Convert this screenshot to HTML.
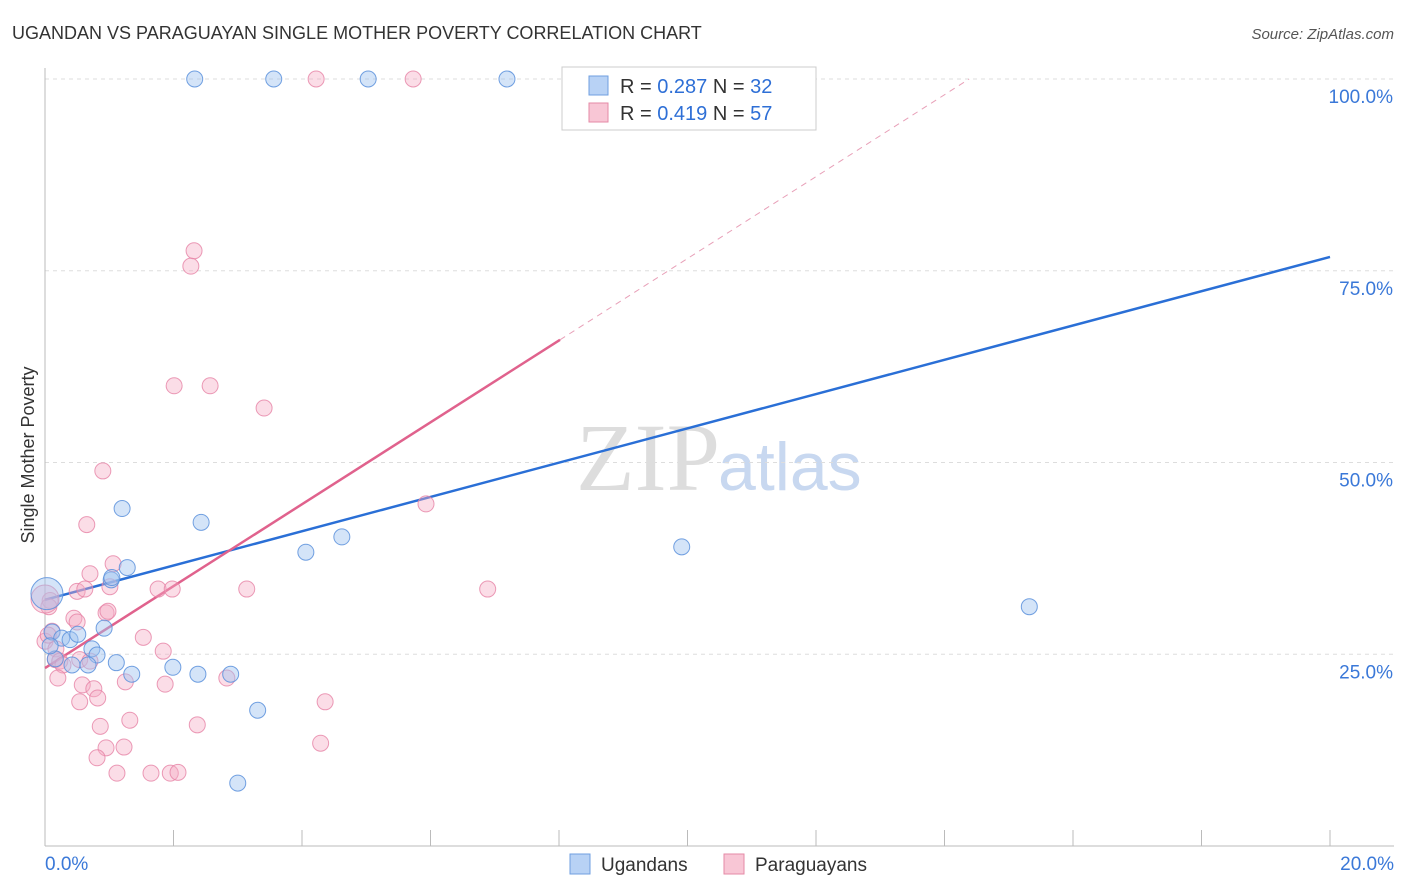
<!DOCTYPE html>
<html><head><meta charset="utf-8"><style>
body{margin:0;background:#fff;font-family:"Liberation Sans",sans-serif;}
svg{display:block}
</style></head><body>
<svg width="1406" height="892" id="chart">
<text x="12" y="39" font-size="18" fill="#333">UGANDAN VS PARAGUAYAN SINGLE MOTHER POVERTY CORRELATION CHART</text>
<text x="1394" y="39" font-size="15" fill="#555" font-style="italic" text-anchor="end">Source: ZipAtlas.com</text>
<text x="720" y="490" font-size="96" fill="#ddd" text-anchor="end" font-family="Liberation Serif,serif">ZIP</text>
<text x="718" y="490" font-size="68" fill="#c8d8f0">atlas</text>
<text x="34" y="455" font-size="18" fill="#333" text-anchor="middle" transform="rotate(-90 34 455)">Single Mother Poverty</text>
<g id="grid"></g><g id="axes"></g><g id="trend"></g><g id="pts"></g>
<g>
<rect x="562" y="67" width="254" height="63" fill="#fff" stroke="#ccc"/>
<rect x="589" y="76" width="19" height="19" fill="#b8d2f5" stroke="#6f9fe0"/>
<rect x="589" y="103" width="19" height="19" fill="#f8c6d5" stroke="#e58aa6"/>
<text x="620" y="93" font-size="20" fill="#333">R = <tspan fill="#2e6fd6">0.287</tspan>   N = <tspan fill="#2e6fd6">32</tspan></text>
<text x="620" y="120" font-size="20" fill="#333">R = <tspan fill="#2e6fd6">0.419</tspan>   N = <tspan fill="#2e6fd6">57</tspan></text>
</g>
<g>
<rect x="570" y="854" width="20" height="20" fill="#b8d2f5" stroke="#6f9fe0"/>
<text x="601" y="871" font-size="19" fill="#333">Ugandans</text>
<rect x="724" y="854" width="20" height="20" fill="#f8c6d5" stroke="#e58aa6"/>
<text x="755" y="871" font-size="19" fill="#333">Paraguayans</text>
</g>
</svg>
<script>
const yTicks=[25,50,75,100];
const xTickLabels=["0.0%","20.0%"];
const blueX=[2.33,3.56,5.03,7.19,1.2,2.43,4.06,4.62,9.91,15.32,1.28,1.03,1.04,0.03,0.11,0.26,0.39,0.51,0.92,0.73,0.81,0.16,0.42,0.67,1.11,1.35,1.99,2.38,2.89,3.31,3.0,0.08];
const blueY=[100,100,100,100,44,42.2,38.3,40.3,39,31.2,36.3,34.7,35,32.9,27.9,27.1,26.9,27.6,28.4,25.7,24.9,24.4,23.6,23.6,23.9,22.4,23.3,22.4,22.4,17.7,8.2,26.1];
const blueR=[8,8,8,8,8,8,8,8,8,8,8,8,8,16,8,8,8,8,8,8,8,8,8,8,8,8,8,8,8,8,8,8];
const pinkX=[4.22,5.73,2.32,2.27,2.01,2.57,3.41,0.9,5.93,0.65,1.06,0.7,0.5,0.62,1.76,1.98,3.14,6.89,1.01,0.08,0.06,0.45,0.5,0.95,0.98,0.11,0,0.17,0.16,0.23,0.28,0.54,0.7,1.84,1.53,0.2,0.58,1.25,1.87,0.76,2.83,0.54,0.82,4.36,1.32,0.86,2.37,0.95,1.23,4.29,0.81,1.12,1.65,1.95,2.07,0,0.05];
const pinkY=[100,100,77.6,75.6,60,60,57.1,48.9,44.6,41.9,36.8,35.5,33.2,33.5,33.5,33.5,33.5,33.5,33.8,32,31.2,29.7,29.2,30.4,30.6,28,26.7,25.7,24.3,24.1,23.6,24.3,24.1,25.4,27.2,21.9,21,21.4,21.1,20.5,21.9,18.8,19.3,18.8,16.4,15.6,15.8,12.8,12.9,13.4,11.5,9.5,9.5,9.5,9.6,32.2,27.5];
const pinkR=[8,8,8,8,8,8,8,8,8,8,8,8,8,8,8,8,8,8,8,8,8,8,8,8,8,8,8,8,8,8,8,8,8,8,8,8,8,8,8,8,8,8,8,8,8,8,8,8,8,8,8,8,8,8,8,14,8];
const blueTrend=[32.1,76.8];
const pinkTrend=[23.2,66.0];const pinkSolidEnd=8.016;
const X=v=>45+v/20*1285, Y=v=>846-v/100*767;
const NS="http://www.w3.org/2000/svg";
function mk(p,t,a){const e=document.createElementNS(NS,t);for(const k in a)e.setAttribute(k,a[k]);document.getElementById(p).appendChild(e);return e;}
yTicks.forEach(t=>{
const l=mk('grid','line',{x1:45,x2:1394,y1:Y(t),y2:Y(t),stroke:'#ddd','stroke-dasharray':'4,4'});


const tx=mk('grid','text',{x:1393,y:Y(t)+24,'font-size':19,fill:'#3a78d8','text-anchor':'end'});tx.textContent=t.toFixed(1)+'%';


});
const ax=mk('axes','line',{x1:45,x2:45,y1:68,y2:846,stroke:'#bbb'});


const bx=mk('axes','line',{x1:45,x2:1394,y1:846,y2:846,stroke:'#bbb'});


for(let i=0;i<=10;i++){const t=mk('axes','line',{x1:X(i*2),x2:X(i*2),y1:830,y2:846,stroke:'#bbb'});

}
[[0,'start',45],[20,'end',1394]].forEach((d,i)=>{const t=mk('axes','text',{x:d[2],y:870,'font-size':19,fill:'#3a78d8','text-anchor':d[1]});t.textContent=xTickLabels[i];

});
const bt=mk('trend','line',{x1:X(0),y1:Y(blueTrend[0]),x2:X(20),y2:Y(blueTrend[1]),stroke:'#2a6fd6','stroke-width':2.5});


const ps=(pinkTrend[1]-pinkTrend[0])/pinkSolidEnd, xEnd=(100-pinkTrend[0])/ps;
const pt=mk('trend','line',{x1:X(0),y1:Y(pinkTrend[0]),x2:X(pinkSolidEnd),y2:Y(pinkTrend[1]),stroke:'#e0628d','stroke-width':2.5});


const pd=mk('trend','line',{x1:X(pinkSolidEnd),y1:Y(pinkTrend[1]),x2:X(xEnd),y2:Y(100),stroke:'#e8a0b8','stroke-width':1,'stroke-dasharray':'6,5'});


pinkX.forEach((v,i)=>{const c=mk('pts','circle',{cx:X(v),cy:Y(pinkY[i]),r:pinkR[i],fill:'rgba(245,170,195,0.4)',stroke:'rgba(230,130,165,0.8)','stroke-width':1});

});
blueX.forEach((v,i)=>{const c=mk('pts','circle',{cx:X(v),cy:Y(blueY[i]),r:blueR[i],fill:'rgba(160,195,240,0.45)',stroke:'rgba(90,145,220,0.85)','stroke-width':1});

});
</script>
</body></html>
